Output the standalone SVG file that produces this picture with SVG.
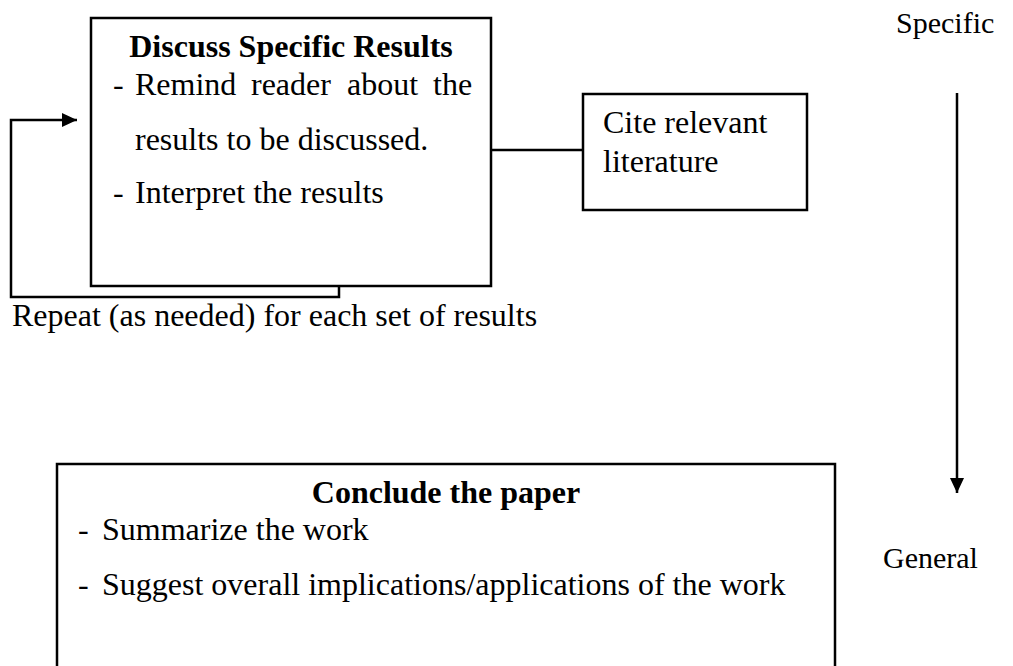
<svg xmlns="http://www.w3.org/2000/svg" width="1013" height="666" viewBox="0 0 1013 666">
<defs>
<style>
.t{font-family:"Liberation Serif","Times New Roman",serif;font-size:32px;fill:#000}
.s{font-size:30px}
.b{font-weight:bold}
.box{fill:#fff;stroke:#000;stroke-width:2.5}
.ln{fill:none;stroke:#000;stroke-width:2.5}
</style>
<marker id="ah" markerUnits="userSpaceOnUse" markerWidth="16" markerHeight="16" refX="15" refY="7" orient="auto">
<path d="M0,0 L15,7 L0,14 Z" fill="#000"/>
</marker>
</defs>
<rect width="1013" height="666" fill="#fff"/>
<g id="connectors">
<path class="ln" d="M339,286 V297 H11 V120 H77" marker-end="url(#ah)"/>
<line class="ln" x1="491" y1="150" x2="583" y2="150"/>
<line class="ln" x1="957" y1="93" x2="957" y2="493" marker-end="url(#ah)"/>
</g>
<g id="discuss">
<rect class="box" x="91" y="18" width="400" height="268"/>
<text class="t b" x="291" y="57" text-anchor="middle">Discuss Specific Results</text>
<text class="t" x="113" y="95">-</text>
<text class="t" x="135" y="95">Remind</text>
<text class="t" x="251" y="95">reader</text>
<text class="t" x="347" y="95">about</text>
<text class="t" x="433" y="95">the</text>
<text class="t" x="135" y="150">results to be discussed.</text>
<text class="t" x="113" y="203">-</text>
<text class="t" x="135" y="203">Interpret the results</text>
</g>
<g id="cite">
<rect class="box" x="583" y="94" width="224" height="116"/>
<text class="t" x="603" y="133">Cite relevant</text>
<text class="t" x="603" y="172">literature</text>
</g>
<g id="repeat-label">
<text class="t" x="12" y="326">Repeat (as needed) for each set of results</text>
</g>
<g id="specific">
<text class="t s" x="896" y="33">Specific</text>
</g>
<g id="general">
<text class="t s" x="883" y="568">General</text>
</g>
<g id="conclude">
<rect class="box" x="57" y="464" width="778" height="230"/>
<text class="t b" x="446" y="503" text-anchor="middle">Conclude the paper</text>
<text class="t" x="78" y="540">-</text>
<text class="t" x="102" y="540">Summarize the work</text>
<text class="t" x="78" y="595">-</text>
<text class="t" x="102" y="595">Suggest overall implications/applications of the work</text>
</g>
</svg>
